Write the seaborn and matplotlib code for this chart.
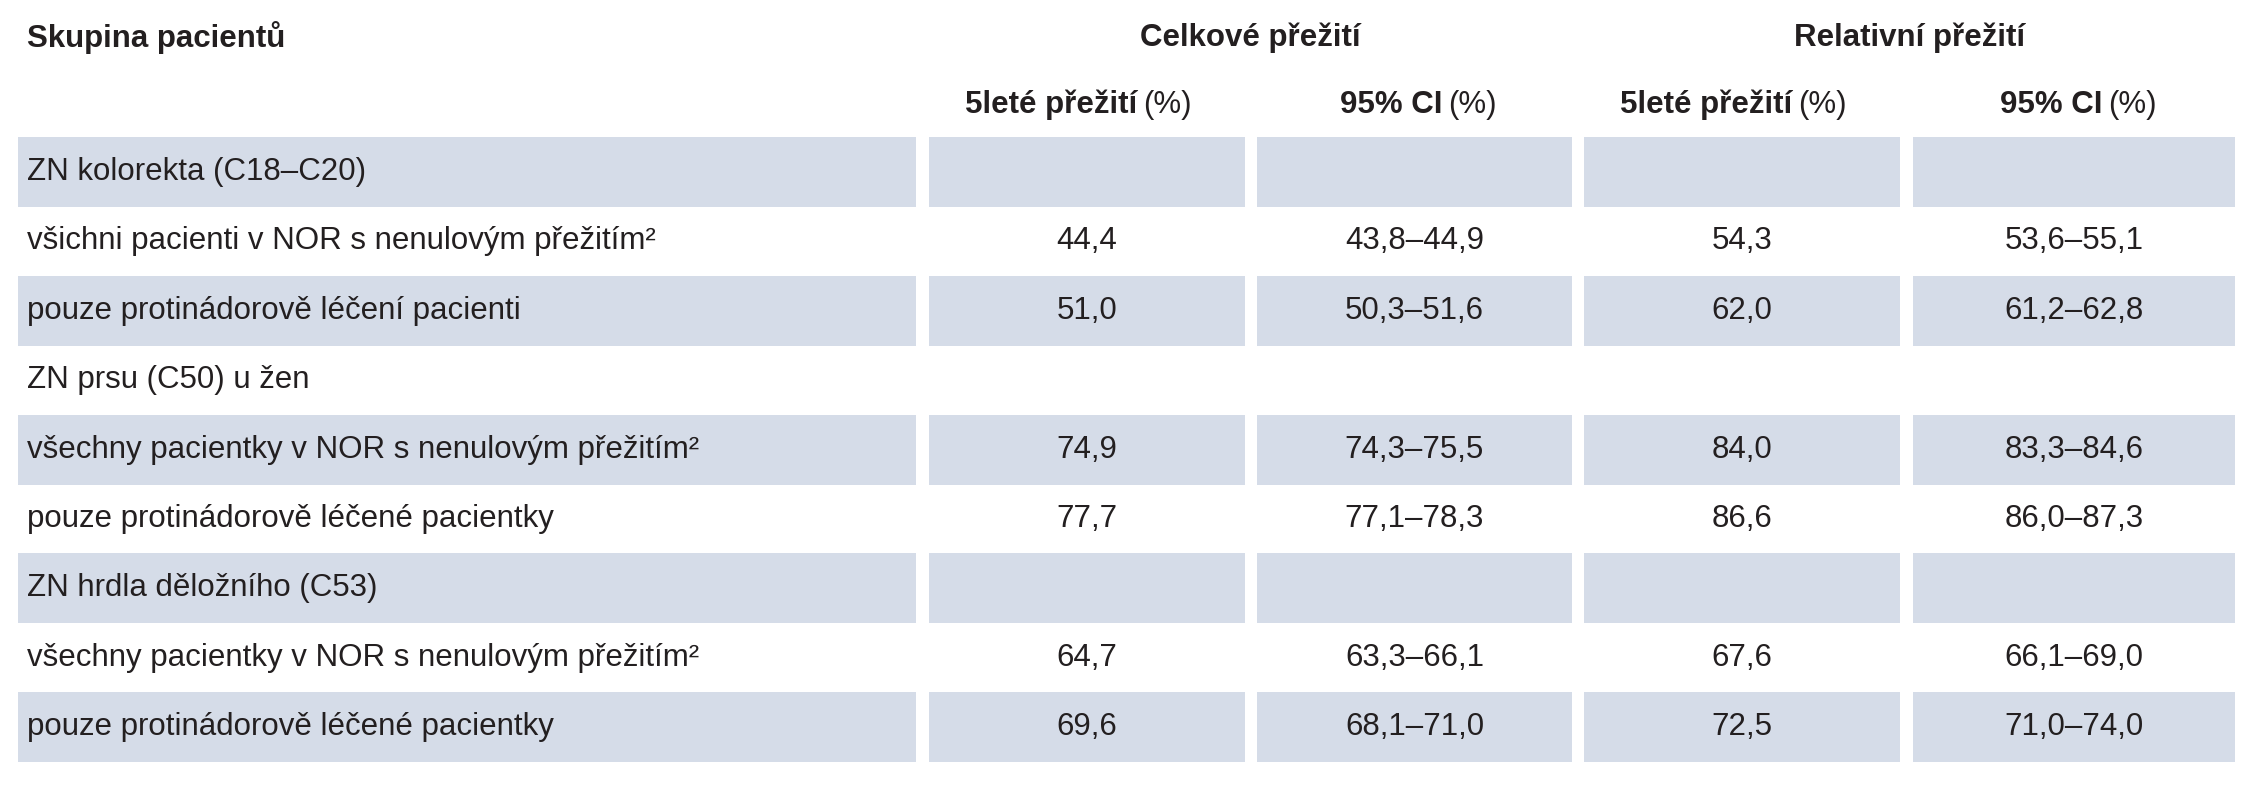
import matplotlib
matplotlib.use("Agg")
import matplotlib.pyplot as plt
import seaborn as sns
from matplotlib import font_manager

sns.set_theme(style="white")
names = {f.name for f in font_manager.fontManager.ttflist}
fam = "Liberation Sans Narrow" if "Liberation Sans Narrow" in names else "Liberation Sans"
plt.rcParams['font.family'] = [fam, 'DejaVu Sans']

groups = ["ZN kolorekta (C18–C20)",
          "všichni pacienti v NOR s nenulovým přežitím²",
          "pouze protinádorově léčení pacienti",
          "ZN prsu (C50) u žen",
          "všechny pacientky v NOR s nenulovým přežitím²",
          "pouze protinádorově léčené pacientky",
          "ZN hrdla děložního (C53)",
          "všechny pacientky v NOR s nenulovým přežitím²",
          "pouze protinádorově léčené pacientky"]
overall_5y = ["", "44,4", "51,0", "", "74,9", "77,7", "", "64,7", "69,6"]
overall_ci = ["", "43,8–44,9", "50,3–51,6", "", "74,3–75,5", "77,1–78,3", "", "63,3–66,1", "68,1–71,0"]
relative_5y = ["", "54,3", "62,0", "", "84,0", "86,6", "", "67,6", "72,5"]
relative_ci = ["", "53,6–55,1", "61,2–62,8", "", "83,3–84,6", "86,0–87,3", "", "66,1–69,0", "71,0–74,0"]
shaded = [True, False, True, False, True, False, True, False, True]

W, H = 2251, 800
fig = plt.figure(figsize=(W / 100, H / 100), dpi=100)
ax = fig.add_axes([0, 0, 1, 1])
ax.set_xlim(0, W)
ax.set_ylim(H, 0)
ax.axis("off")

txt = "#231f20"
shade = "#d5dce8"
fs = 22.5
col_x = [(18, 916), (929, 1245), (1257, 1572), (1584, 1900), (1913, 2235)]
top0, pitch, rh = 137, 69.4, 70

for i, s in enumerate(shaded):
    if s:
        y = top0 + i * pitch
        for x0, x1 in col_x:
            ax.barh(y + rh / 2, x1 - x0, left=x0, height=rh, color=shade, edgecolor="none")

cols = [overall_5y, overall_ci, relative_5y, relative_ci]
for i in range(len(groups)):
    yc = top0 + i * pitch + rh / 2
    ax.text(27, yc, groups[i], fontsize=fs, color=txt, va="center", ha="left")
    for (x0, x1), vals in zip(col_x[1:], cols):
        ax.text((x0 + x1) / 2, yc, vals[i], fontsize=fs, color=txt, va="center", ha="center")

# headers
ax.text(27, 38, "Skupina pacientů", fontsize=fs, color=txt, weight="bold", va="center")
ax.text((929 + 1572) / 2, 38, "Celkové přežití", fontsize=fs, color=txt, weight="bold", va="center", ha="center")
ax.text((1584 + 2235) / 2, 38, "Relativní přežití", fontsize=fs, color=txt, weight="bold", va="center", ha="center")
subs = [("5leté přežití", 50), ("95% CI", 28), ("5leté přežití", 50), ("95% CI", 28)]
for (x0, x1), (b, off) in zip(col_x[1:], subs):
    xc = (x0 + x1) / 2 + off
    ax.text(xc, 105, b, fontsize=fs, color=txt, weight="bold", va="center", ha="right")
    ax.text(xc + 6, 105, "(%)", fontsize=fs, color=txt, va="center", ha="left")

fig.savefig("out.png", dpi=100)
